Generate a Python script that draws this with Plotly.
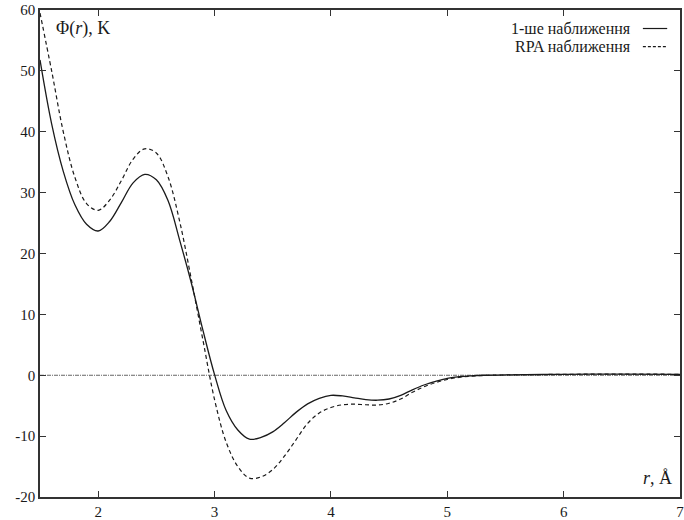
import plotly.graph_objects as go

# Radial grid, Å
r_vals = [1.5, 1.6, 1.7, 1.8, 1.9, 2.0, 2.1, 2.2, 2.3, 2.4, 2.5, 2.6, 2.7, 2.8, 2.9,
          3.0, 3.1, 3.2, 3.3, 3.4, 3.5, 3.6, 3.7, 3.8, 3.9, 4.0, 4.1, 4.2, 4.3, 4.4,
          4.5, 4.6, 4.7, 4.8, 4.9, 5.0, 5.1, 5.2, 5.3, 5.5, 6.0, 6.5, 7.0]

# Potential, K: first approximation
phi_first = [51.8, 41.3, 33.5, 28.0, 24.8, 23.7, 25.3, 28.4, 31.6, 33.0, 32.1, 28.7, 22.2, 15.2, 7.4,
             0.1, -5.8, -9.0, -10.5, -10.2, -9.3, -7.8, -6.1, -4.7, -3.8, -3.3, -3.4, -3.7, -4.0, -4.1,
             -3.9, -3.3, -2.4, -1.6, -1.0, -0.5, -0.25, -0.1, 0.0, 0.05, 0.15, 0.2, 0.15]

# Potential, K: RPA approximation
phi_rpa = [59.5, 50.0, 40.0, 32.5, 28.2, 27.1, 28.8, 32.0, 35.5, 37.2, 36.5, 32.6, 25.3, 15.8, 5.8,
           -4.0, -11.0, -15.0, -16.9, -16.7, -15.5, -13.3, -10.6, -7.9, -6.2, -5.3, -4.85, -4.75, -4.85, -4.9,
           -4.6, -3.9, -2.8, -1.9, -1.2, -0.7, -0.35, -0.15, -0.05, 0.05, 0.15, 0.2, 0.15]

x_ticks = [2, 3, 4, 5, 6, 7]
y_ticks = [-20, -10, 0, 10, 20, 30, 40, 50, 60]

series_names = ["1-ше наближення", "RPA наближення"]

FONT = "Liberation Serif, Times New Roman, serif"
AX = "#333333"

fig = go.Figure()

# zero axis
fig.add_trace(go.Scatter(x=[1.5, 7.0], y=[0, 0], mode="lines",
                         line=dict(color="#666666", width=1, dash="4px,1px,1px,1px"),
                         showlegend=False, hoverinfo="skip"))

fig.add_trace(go.Scatter(x=r_vals, y=phi_first, mode="lines", name=series_names[0],
                         line=dict(color="#1a1a1a", width=1.3, shape="spline", smoothing=1.0),
                         showlegend=False))
fig.add_trace(go.Scatter(x=r_vals, y=phi_rpa, mode="lines", name=series_names[1],
                         line=dict(color="#1a1a1a", width=1.2, dash="4px,3px", shape="spline", smoothing=1.0),
                         showlegend=False))

# key in the upper right corner: text then line sample
key_y = [0.962, 0.925]
key_dash = ["solid", "3px,2px"]
for name, ky, dsh in zip(series_names, key_y, key_dash):
    fig.add_annotation(xref="paper", yref="paper", x=0.927, y=ky, text=name,
                       showarrow=False, xanchor="right", yanchor="middle",
                       font=dict(family=FONT, size=16, color="#1a1a1a"))
    fig.add_shape(type="line", xref="paper", yref="paper", x0=0.942, x1=0.98, y0=ky, y1=ky,
                  line=dict(color="#1a1a1a", width=1.2, dash=dsh))

# axis titles placed inside the frame
fig.add_annotation(xref="paper", yref="paper", x=0.022, y=0.963, xanchor="left", yanchor="middle",
                   text="Φ(<i>r</i>), K", showarrow=False,
                   font=dict(family=FONT, size=18, color="#1a1a1a"))
fig.add_annotation(xref="paper", yref="paper", x=0.99, y=0.015, xanchor="right", yanchor="bottom",
                   text="<i>r</i>, Å", showarrow=False,
                   font=dict(family=FONT, size=18, color="#1a1a1a"))

fig.update_layout(
    width=684, height=520,
    margin=dict(l=40, r=0, t=10, b=23),
    paper_bgcolor="white", plot_bgcolor="white",
    font=dict(family=FONT, size=15, color="#1a1a1a"),
    showlegend=False,
)
fig.update_xaxes(range=[1.5, 7.0], tickvals=x_ticks, ticktext=[str(v) for v in x_ticks],
                 ticklabeloverflow="allow",
                 showgrid=False, zeroline=False, showline=True, linecolor=AX, linewidth=1.5,
                 mirror="allticks", ticks="inside", ticklen=6, tickcolor=AX, tickwidth=1)
fig.update_yaxes(range=[-20, 60], tickvals=y_ticks, ticktext=[str(v) for v in y_ticks],
                 showgrid=False, zeroline=False, showline=True, linecolor=AX, linewidth=1.5,
                 mirror="allticks", ticks="inside", ticklen=6, tickcolor=AX, tickwidth=1)

fig.write_html("out.html")
